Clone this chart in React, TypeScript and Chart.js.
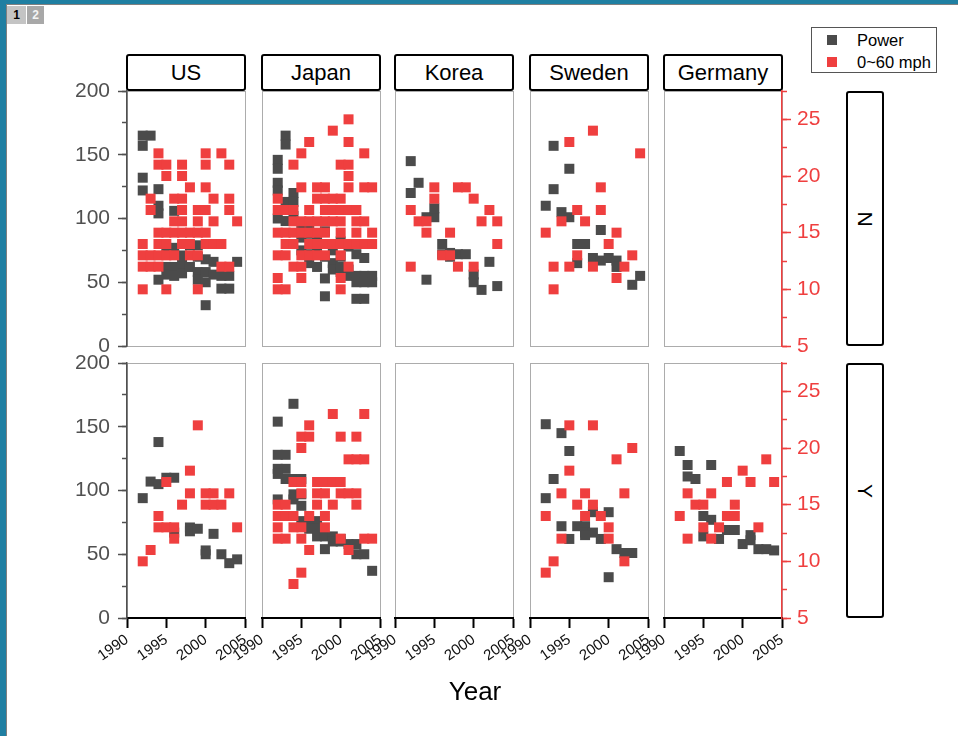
import React, { useEffect, useRef } from "react";
import { Chart, registerables } from "chart.js";

Chart.register(...registerables);

const FONT = '"Liberation Sans", Arial, Helvetica, sans-serif';

// ---------- categories / labels ----------
const MAKES = ["US", "Japan", "Korea", "Sweden", "Germany"];
const TURBO = ["N", "Y"];
const SERIES_NAMES = ["Power", "0~60 mph"];
const X_TITLE = "Year";

// ---------- axis ranges ----------
const YEAR_MIN = 1990;
const YEAR_MAX = 2005;
const YEAR_STEP = 5;
const POWER_MIN = 0;
const POWER_MAX = 200;
const POWER_STEP = 50;
const POWER_MINOR = 25;
const MPH_MIN = 5;
const MPH_MAX = 27.5;
const MPH_STEP = 5;
const MPH_MINOR = 2.5;

type Pt = [number, number];

// ---------- data: [year, value] ----------
const US_N_POWER: Pt[] = [
  [1992, 165], [1992, 157], [1993, 165], [1992, 132], [1992, 122], [1994, 123], [1994, 110], [1994, 104],
  [1996, 106], [1996, 77], [1995, 77], [1995, 62], [1995, 56], [1994, 52], [1996, 62], [1996, 55],
  [1997, 71], [1997, 64], [1997, 57], [1998, 79], [1998, 62], [1999, 79], [1999, 70], [1999, 58], [1999, 52],
  [2000, 68], [2000, 58], [2000, 50], [2000, 32], [2001, 66], [2001, 56], [2002, 55], [2002, 45],
  [2003, 55], [2003, 45], [2004, 66],
];
const US_N_MPH: Pt[] = [
  [1994, 22], [2000, 22], [2002, 22],
  [1994, 21], [1995, 21], [1997, 21], [2000, 21], [2003, 21],
  [1995, 20], [1997, 20],
  [1998, 19], [2000, 19],
  [1993, 18], [1996, 18], [1997, 18], [2001, 18], [2003, 18],
  [1993, 17], [1997, 17], [1999, 17], [2000, 17], [2003, 17],
  [1996, 16], [1997, 16], [1999, 16], [2001, 16], [2004, 16],
  [1994, 15], [1995, 15], [1996, 15], [1997, 15], [1998, 15], [1999, 15], [2000, 15],
  [1992, 14], [1994, 14], [1995, 14], [1997, 14], [1998, 14], [2000, 14], [2001, 14], [2002, 14],
  [1992, 13], [1993, 13], [1994, 13], [1995, 13], [1996, 13], [1998, 13], [1999, 13],
  [1992, 12], [1993, 12], [1994, 12], [2002, 12], [2003, 12],
  [1992, 10], [1995, 10], [1999, 10],
];
const JAPAN_N_POWER: Pt[] = [
  [1992, 146], [1992, 139], [1992, 128], [1992, 122], [1992, 100], [1993, 165], [1993, 158], [1993, 113],
  [1993, 98], [1994, 120], [1994, 113], [1994, 102], [1995, 92], [1995, 85], [1995, 75], [1996, 95],
  [1996, 88], [1996, 72], [1996, 65], [1997, 85], [1997, 78], [1997, 62], [1998, 90], [1998, 70],
  [1998, 53], [1998, 39], [1999, 75], [1999, 65], [1999, 60], [2000, 82], [2000, 70], [2000, 62],
  [2000, 58], [2001, 78], [2001, 60], [2001, 55], [2002, 72], [2002, 55], [2002, 50], [2002, 37],
  [2003, 69], [2003, 55], [2003, 50], [2003, 37], [2004, 55], [2004, 50],
];
const JAPAN_N_MPH: Pt[] = [
  [2001, 25], [1999, 24], [1996, 23], [2001, 23], [1995, 22], [2003, 22],
  [1994, 21], [2000, 21], [2001, 21], [2001, 20],
  [1995, 19], [1997, 19], [1998, 19], [2001, 19], [2003, 19], [2004, 19],
  [1992, 18], [1997, 18], [1998, 18], [1999, 18], [2000, 18],
  [1992, 17], [1993, 17], [1994, 17], [1996, 17], [1998, 17], [1999, 17], [2000, 17], [2001, 17], [2002, 17],
  [1994, 16], [1995, 16], [1996, 16], [1997, 16], [1998, 16], [1999, 16], [2000, 16], [2002, 16], [2003, 16],
  [1992, 15], [1993, 15], [1994, 15], [1995, 15], [1996, 15], [1997, 15], [1998, 15], [2000, 15], [2002, 15], [2004, 15],
  [1993, 14], [1994, 14], [1996, 14], [1997, 14], [1998, 14], [1999, 14], [2000, 14], [2001, 14], [2002, 14], [2003, 14], [2004, 14],
  [1992, 13], [1993, 13], [1995, 13], [1996, 13], [1997, 13], [1998, 13], [2000, 13],
  [1994, 12], [1995, 12], [2001, 12],
  [1992, 11], [1995, 11], [2000, 11],
  [1992, 10], [1993, 10], [2000, 10],
];
const KOREA_N_POWER: Pt[] = [
  [1992, 145], [1993, 128], [1992, 120], [1994, 101], [1995, 101], [1995, 108], [1996, 80], [1996, 72],
  [1997, 73], [1997, 70], [1998, 72], [1999, 72], [2002, 66], [1994, 52], [2000, 56], [2000, 50],
  [2001, 44], [2003, 47],
];
const KOREA_N_MPH: Pt[] = [
  [1995, 19], [1998, 19], [1999, 19], [1995, 18], [2000, 18], [1992, 17], [2002, 17],
  [1993, 16], [1994, 16], [2001, 16], [2003, 16], [1994, 15], [1997, 15], [2003, 14],
  [1996, 13], [1997, 13], [1992, 12], [1998, 12], [2000, 12],
];
const SWEDEN_N_POWER: Pt[] = [
  [1993, 157], [1995, 139], [1993, 123], [1992, 110], [1994, 105], [1995, 101], [1999, 91], [1996, 80],
  [1997, 80], [1996, 65], [1998, 69], [1999, 67], [2000, 69], [2001, 67], [2001, 62], [2003, 48], [2004, 55],
];
const SWEDEN_N_MPH: Pt[] = [
  [1998, 24], [1995, 23], [2004, 22], [1999, 19], [1996, 17], [1999, 17], [1994, 16], [1997, 16],
  [1992, 15], [2001, 15], [2000, 14], [1996, 13], [2003, 13], [1993, 12], [1995, 12], [1998, 12],
  [2002, 12], [2001, 11], [1993, 10],
];
const GERMANY_N_POWER: Pt[] = [];
const GERMANY_N_MPH: Pt[] = [];

const US_Y_POWER: Pt[] = [
  [1992, 94], [1994, 138], [1993, 107], [1994, 105], [1995, 110], [1996, 110], [1996, 67], [1998, 71],
  [1998, 68], [1999, 70], [2000, 53], [2000, 50], [2001, 66], [2002, 50], [2003, 43], [2004, 46],
];
const US_Y_MPH: Pt[] = [
  [1999, 22], [1998, 18], [1995, 17], [1998, 16], [2000, 16], [2001, 16], [2003, 16],
  [1997, 15], [2000, 15], [2001, 15], [2002, 15], [1994, 14], [1994, 13], [1995, 13], [1996, 13],
  [2004, 13], [1996, 12], [1993, 11], [1992, 10],
];
const JAPAN_Y_POWER: Pt[] = [
  [1994, 168], [1992, 154], [1992, 128], [1993, 128], [1992, 117], [1993, 117], [1992, 113], [1993, 109],
  [1994, 109], [1995, 109], [1994, 97], [1995, 97], [1992, 93], [1994, 93], [1995, 88], [1995, 76],
  [1996, 76], [1997, 76], [1996, 70], [1997, 70], [1997, 64], [1998, 64], [1999, 64], [1998, 54],
  [1999, 60], [2000, 60], [2000, 62], [2001, 58], [2002, 58], [2002, 50], [2003, 50], [2004, 37],
];
const JAPAN_Y_MPH: Pt[] = [
  [1999, 23], [2003, 23], [1996, 22], [1995, 21], [1996, 21], [2000, 21], [2002, 21], [1995, 20],
  [2001, 19], [2002, 19], [2003, 19],
  [1994, 17], [1995, 17], [1997, 17], [1998, 17], [1999, 17], [2000, 17],
  [1995, 16], [1997, 16], [1998, 16], [2000, 16], [2001, 16], [2002, 16],
  [1992, 15], [1993, 15], [1997, 15], [1999, 15], [2002, 15],
  [1992, 14], [1993, 14], [1994, 14], [1996, 14], [1998, 14],
  [1992, 13], [1994, 13], [1995, 13], [1998, 13],
  [1992, 12], [1993, 12], [1995, 12], [2000, 12], [2003, 12], [2004, 12],
  [1996, 11], [2001, 11], [1995, 9], [1994, 8],
];
const KOREA_Y_POWER: Pt[] = [];
const KOREA_Y_MPH: Pt[] = [];
const SWEDEN_Y_POWER: Pt[] = [
  [1992, 152], [1994, 145], [1995, 131], [1993, 109], [1992, 94], [1994, 72], [1996, 72], [1997, 72],
  [1997, 67], [1998, 67], [1998, 83], [1995, 62], [1997, 65], [1999, 62], [2000, 83], [2001, 54],
  [2002, 51], [2003, 51], [2000, 32],
];
const SWEDEN_Y_MPH: Pt[] = [
  [1995, 22], [1998, 22], [2003, 20], [2001, 19], [1995, 18], [1994, 16], [1997, 16], [2002, 16],
  [1996, 15], [1998, 15], [1992, 14], [1997, 14], [1999, 14], [2000, 13], [1994, 12], [2000, 12],
  [1993, 10], [2002, 10], [1992, 9],
];
const GERMANY_Y_POWER: Pt[] = [
  [1992, 131], [1993, 120], [1993, 111], [1994, 109], [1996, 120], [1995, 80], [1996, 77], [1995, 64],
  [1997, 62], [1998, 69], [1999, 69], [2000, 58], [2001, 65], [2001, 61], [2002, 54], [2003, 54], [2004, 53],
];
const GERMANY_Y_MPH: Pt[] = [
  [2003, 19], [2000, 18], [1998, 17], [2001, 17], [2004, 17], [1993, 16], [1996, 16],
  [1994, 15], [1995, 15], [1999, 15], [1992, 14], [1998, 14], [1999, 14],
  [1995, 13], [1997, 13], [2002, 13], [1993, 12], [1996, 12],
];

const POWER: Pt[][][] = [
  [US_N_POWER, JAPAN_N_POWER, KOREA_N_POWER, SWEDEN_N_POWER, GERMANY_N_POWER],
  [US_Y_POWER, JAPAN_Y_POWER, KOREA_Y_POWER, SWEDEN_Y_POWER, GERMANY_Y_POWER],
];
const MPH: Pt[][][] = [
  [US_N_MPH, JAPAN_N_MPH, KOREA_N_MPH, SWEDEN_N_MPH, GERMANY_N_MPH],
  [US_Y_MPH, JAPAN_Y_MPH, KOREA_Y_MPH, SWEDEN_Y_MPH, GERMANY_Y_MPH],
];

// ---------- style / layout ----------
const DARK = "#4b4b4b";
const RED = "#ef3f3f";
const AXIS_GRAY = "#505050";
const FRAME_GRAY = "#acacac";

const COL_LEFT = [127, 262, 395, 530, 664];
const ROW_TOP = [91, 363];
const PLOT_W = 118;
const PLOT_H = 255;
const PAD_L = 60;
const PAD_R = 46;
const PAD_T = 30;
const PAD_B = 72;

const framePlugin = {
  id: "panelFrame",
  beforeDraw(chart: any) {
    const { ctx, chartArea: a } = chart;
    ctx.save();
    ctx.strokeStyle = FRAME_GRAY;
    ctx.lineWidth = 1;
    ctx.strokeRect(Math.round(a.left) + 0.5, Math.round(a.top) + 0.5, Math.round(a.width), Math.round(a.height));
    ctx.restore();
  },
};

function Panel({ row, col }: { row: number; col: number }) {
  const ref = useRef<HTMLCanvasElement>(null);
  const W = PAD_L + PLOT_W + PAD_R;
  const H = PAD_T + PLOT_H + PAD_B;
  useEffect(() => {
    const isBottom = row === TURBO.length - 1;
    const isFirst = col === 0;
    const isLast = col === MAKES.length - 1;
    const pointR = 5 / Math.SQRT1_2;
    const chart = new Chart(ref.current as HTMLCanvasElement, {
      type: "scatter",
      data: {
        datasets: [
          {
            label: SERIES_NAMES[0],
            data: POWER[row][col].map(([x, y]) => ({ x, y })),
            yAxisID: "y",
            backgroundColor: DARK,
            pointStyle: "rect",
            pointRadius: pointR,
            pointHoverRadius: pointR,
            pointBorderWidth: 0,
            order: 2,
          },
          {
            label: SERIES_NAMES[1],
            data: MPH[row][col].map(([x, y]) => ({ x, y })),
            yAxisID: "y2",
            backgroundColor: RED,
            pointStyle: "rect",
            pointRadius: pointR,
            pointHoverRadius: pointR,
            pointBorderWidth: 0,
            order: 1,
          },
        ],
      },
      options: {
        animation: false,
        responsive: false,
        events: [],
        layout: { padding: { top: PAD_T, left: 0, right: 0, bottom: 0 } },
        plugins: { legend: { display: false }, tooltip: { enabled: false } },
        scales: {
          x: {
            type: "linear",
            position: "bottom",
            min: YEAR_MIN,
            max: YEAR_MAX,
            afterFit: (s: any) => { s.height = PAD_B; },
            ticks: {
              display: isBottom,
              stepSize: YEAR_STEP,
              autoSkip: false,
              minRotation: 35,
              maxRotation: 35,
              padding: 3,
              color: "#111",
              font: { family: FONT, size: 15 },
              callback: (v: any) => String(v),
            },
            grid: { display: isBottom, drawOnChartArea: false, tickLength: 10, tickColor: "#000", tickWidth: 2 },
            border: { display: isBottom, color: "#000", width: 2 },
          },
          y: {
            type: "linear",
            position: "left",
            weight: 1,
            min: POWER_MIN,
            max: POWER_MAX,
            afterFit: (s: any) => { s.width = PAD_L; },
            ticks: {
              display: isFirst,
              stepSize: POWER_STEP,
              padding: 8,
              color: AXIS_GRAY,
              font: { family: FONT, size: 21 },
              callback: (v: any) => String(v),
            },
            grid: { display: isFirst, drawOnChartArea: false, tickLength: 9, tickColor: AXIS_GRAY, tickWidth: 1.5 },
            border: { display: isFirst, color: AXIS_GRAY, width: 1.5 },
          },
          yMinor: {
            type: "linear",
            position: "left",
            weight: 0,
            min: POWER_MIN,
            max: POWER_MAX,
            afterFit: (s: any) => { s.width = 0; },
            ticks: { display: false, stepSize: POWER_MINOR },
            grid: { display: isFirst, drawOnChartArea: false, tickLength: 5, tickColor: AXIS_GRAY, tickWidth: 1.5 },
            border: { display: false },
          },
          y2: {
            type: "linear",
            position: "right",
            weight: 1,
            min: MPH_MIN,
            max: MPH_MAX,
            afterFit: (s: any) => { s.width = PAD_R; },
            ticks: {
              display: isLast,
              stepSize: MPH_STEP,
              includeBounds: false,
              padding: 6,
              color: RED,
              font: { family: FONT, size: 21 },
              callback: (v: any) => String(v),
            },
            grid: { display: isLast, drawOnChartArea: false, tickLength: 9, tickColor: RED, tickWidth: 1.5 },
            border: { display: isLast, color: RED, width: 1.5 },
          },
          y2Minor: {
            type: "linear",
            position: "right",
            weight: 0,
            min: MPH_MIN,
            max: MPH_MAX,
            afterFit: (s: any) => { s.width = 0; },
            ticks: { display: false, stepSize: MPH_MINOR },
            grid: { display: isLast, drawOnChartArea: false, tickLength: 5, tickColor: RED, tickWidth: 1.5 },
            border: { display: false },
          },
        },
      } as any,
      plugins: [framePlugin],
    });
    return () => chart.destroy();
  }, [row, col]);
  return (
    <canvas
      ref={ref}
      width={W}
      height={H}
      style={{
        position: "absolute",
        left: COL_LEFT[col] - PAD_L,
        top: ROW_TOP[row] - PAD_T,
        width: W,
        height: H,
      }}
    />
  );
}

export default function App() {
  const boxStyle: React.CSSProperties = {
    position: "absolute",
    boxSizing: "border-box",
    border: "2px solid #000",
    borderRadius: 3,
    background: "#fff",
    display: "flex",
    alignItems: "center",
    justifyContent: "center",
    fontFamily: FONT,
    color: "#000",
  };
  return (
    <div
      style={{
        position: "absolute",
        left: 0,
        top: 0,
        width: 958,
        height: 736,
        overflow: "hidden",
        background: "#fff",
        fontFamily: FONT,
      }}
    >
      {/* window frame */}
      <div style={{ position: "absolute", left: 0, top: 0, width: 958, height: 4, background: "#1f7fa2" }} />
      <div style={{ position: "absolute", left: 0, top: 0, width: 6, height: 736, background: "#1f7fa2" }} />
      <div style={{ position: "absolute", left: 6, top: 4, width: 952, height: 1, background: "#808080" }} />
      <div style={{ position: "absolute", left: 6, top: 4, width: 1, height: 732, background: "#808080" }} />
      {/* page tabs */}
      <div
        style={{
          position: "absolute", left: 7, top: 6, width: 19, height: 18, background: "#c4c4c4",
          fontSize: 12, fontWeight: "bold", lineHeight: "18px", textAlign: "center", color: "#000",
        }}
      >
        1
      </div>
      <div
        style={{
          position: "absolute", left: 27, top: 6, width: 17, height: 18, background: "#a8a8a8",
          fontSize: 12, fontWeight: "bold", lineHeight: "18px", textAlign: "center", color: "#f4f4f4",
        }}
      >
        2
      </div>

      {/* column headers */}
      {MAKES.map((m, c) => (
        <div key={m} style={{ ...boxStyle, left: COL_LEFT[c] - 1, top: 54, width: PLOT_W + 2, height: 37, fontSize: 22 }}>
          {m}
        </div>
      ))}

      {/* row strips */}
      {TURBO.map((t, r) => (
        <div key={t} style={{ ...boxStyle, left: 846, top: ROW_TOP[r], width: 38, height: PLOT_H, fontSize: 21 }}>
          <span style={{ display: "inline-block", transform: "rotate(90deg)" }}>{t}</span>
        </div>
      ))}

      {/* panels */}
      {TURBO.map((t, r) => MAKES.map((m, c) => <Panel key={t + m} row={r} col={c} />))}

      {/* x title */}
      <div
        style={{
          position: "absolute", left: 405, top: 676, width: 140, textAlign: "center",
          fontSize: 26, lineHeight: "30px", color: "#000",
        }}
      >
        {X_TITLE}
      </div>

      {/* legend */}
      <div
        style={{
          position: "absolute", left: 811, top: 27, width: 126, height: 46, boxSizing: "border-box",
          border: "1px solid #555", background: "#fff",
        }}
      >
        {SERIES_NAMES.map((s, i) => (
          <div key={s} style={{ position: "absolute", left: 0, top: 2 + i * 22, height: 20, width: 124 }}>
            <div
              style={{
                position: "absolute", left: 15, top: 5, width: 10, height: 10,
                background: i === 0 ? DARK : RED,
              }}
            />
            <div style={{ position: "absolute", left: 45, top: 0, fontSize: 16.5, lineHeight: "20px", color: "#000", whiteSpace: "nowrap" }}>
              {s}
            </div>
          </div>
        ))}
      </div>
    </div>
  );
}
